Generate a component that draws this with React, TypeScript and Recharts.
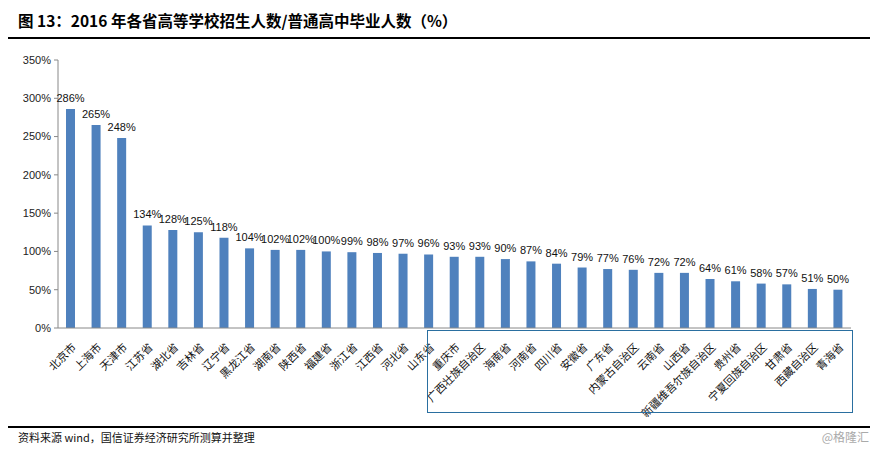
import React from 'react';
import { BarChart, Bar, XAxis, YAxis, LabelList } from 'recharts';

const provinces = [
  '北京市', '上海市', '天津市', '江苏省', '湖北省', '吉林省', '辽宁省', '黑龙江省',
  '湖南省', '陕西省', '福建省', '浙江省', '江西省', '河北省', '山东省', '重庆市',
  '广西壮族自治区', '海南省', '河南省', '四川省', '安徽省', '广东省', '内蒙古自治区',
  '云南省', '山西省', '新疆维吾尔族自治区', '贵州省', '宁夏回族自治区', '甘肃省',
  '西藏自治区', '青海省',
];

const ratio = [
  286, 265, 248, 134, 128, 125, 118, 104, 102, 102, 100, 99, 98, 97, 96, 93,
  93, 90, 87, 84, 79, 77, 76, 72, 72, 64, 61, 58, 57, 51, 50,
];

const yTicks = [0, 50, 100, 150, 200, 250, 300, 350];

const data = provinces.map((name, i) => ({ name, value: ratio[i] }));

const cjk = '"Noto Sans CJK SC", sans-serif';
const latin = '"Liberation Sans", Arial, sans-serif';

function ProvinceTick(props: any) {
  const { x, y, payload } = props;
  return (
    <text
      x={x + 6}
      y={y + 12}
      transform={`rotate(-45, ${x + 6}, ${y + 12})`}
      textAnchor="end"
      fontSize={11}
      fontFamily={cjk}
      fill="#111"
    >
      {payload.value}
    </text>
  );
}

export default function App() {
  return (
    <div style={{ position: 'absolute', left: 0, top: 0, width: 877, height: 449, background: '#fff' }}>
      <div
        style={{
          position: 'absolute', left: 18, top: 10, fontSize: 15.5, fontWeight: 'bold',
          fontFamily: cjk, color: '#000', whiteSpace: 'nowrap', lineHeight: '20px',
        }}
      >
        图 13：2016 年各省高等学校招生人数/普通高中毕业人数（%）
      </div>
      <div style={{ position: 'absolute', left: 8, top: 37, width: 862, height: 2, background: '#000' }} />

      <BarChart
        width={877}
        height={449}
        data={data}
        margin={{ top: 60, right: 26, bottom: 21, left: 8 }}
      >
        <XAxis
          dataKey="name"
          interval={0}
          height={100}
          tickLine={false}
          axisLine={{ stroke: '#888' }}
          tick={<ProvinceTick />}
        />
        <YAxis
          width={50}
          domain={[0, 350]}
          ticks={yTicks}
          tickFormatter={(v: number) => `${v}%`}
          tickSize={4}
          tickMargin={3}
          axisLine={{ stroke: '#888' }}
          tickLine={{ stroke: '#888' }}
          tick={{ fontSize: 11, fontFamily: latin, fill: '#222' }}
        />
        <Bar dataKey="value" fill="#4f81bd" barSize={9} isAnimationActive={false}>
          <LabelList
            dataKey="value"
            position="top"
            offset={7}
            formatter={(v: number) => `${v}%`}
            style={{ fontSize: 11, fontFamily: latin, fill: '#111' }}
          />
        </Bar>
      </BarChart>

      <div
        style={{
          position: 'absolute', left: 427, top: 330, width: 424, height: 81,
          border: '1.5px solid #2a6fa0', pointerEvents: 'none',
        }}
      />

      <div style={{ position: 'absolute', left: 8, top: 426, width: 862, height: 2, background: '#000' }} />
      <div
        style={{
          position: 'absolute', left: 18, top: 430, fontSize: 11, fontFamily: cjk,
          color: '#111', whiteSpace: 'nowrap', lineHeight: '14px',
        }}
      >
        资料来源 wind，国信证券经济研究所测算并整理
      </div>
      <div
        style={{
          position: 'absolute', right: 8, top: 430, fontSize: 12, fontFamily: cjk,
          color: '#aaa', whiteSpace: 'nowrap', lineHeight: '14px',
        }}
      >
        @格隆汇
      </div>
    </div>
  );
}
